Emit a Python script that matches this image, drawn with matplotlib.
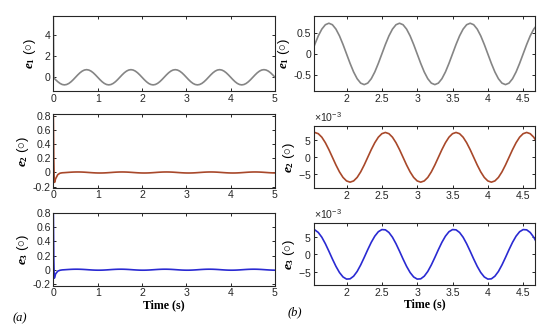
import numpy as np
import matplotlib.pyplot as plt
from matplotlib.ticker import ScalarFormatter

plt.rcParams['font.family'] = ['Liberation Sans', 'DejaVu Sans']
plt.rcParams['axes.unicode_minus'] = False
plt.rcParams['mathtext.fontset'] = 'custom'
plt.rcParams['mathtext.it'] = 'Liberation Serif:italic:bold'
plt.rcParams['mathtext.rm'] = 'Liberation Sans'
plt.rcParams['mathtext.bf'] = 'Liberation Serif:bold'

# start-up transient, sampled finer
t_start = [0.0, 0.01, 0.02, 0.03, 0.05, 0.10, 0.15]
e1_start = [5.6, -0.10, -0.12, -0.15, -0.23, -0.42, -0.58]
e2_start = [0.80, 0.20, -0.13, -0.14, -0.09, -0.03, -0.01]
e3_start = [0.80, 0.15, -0.12, -0.11, -0.06, -0.02, -0.008]

# steady part, every 0.05 s from 0.2 s to 5 s
t_main = np.round(np.arange(0.20, 5.0001, 0.05), 2)
e1_main = [-0.685, -0.72, -0.685, -0.582, -0.423, -0.222, 0, 0.222, 0.423, 0.582, 0.685, 0.72, 0.685, 0.582, 0.423, 0.222,
           0, -0.222, -0.423, -0.582, -0.685, -0.72, -0.685, -0.582, -0.423, -0.222, 0, 0.222, 0.423, 0.582, 0.685, 0.72, 0.685, 0.582, 0.423, 0.222,
           0, -0.222, -0.423, -0.582, -0.685, -0.72, -0.685, -0.582, -0.423, -0.222, 0, 0.222, 0.423, 0.582, 0.685, 0.72, 0.685, 0.582, 0.423, 0.222,
           0, -0.222, -0.423, -0.582, -0.685, -0.72, -0.685, -0.582, -0.423, -0.222, 0, 0.222, 0.423, 0.582, 0.685, 0.72, 0.685, 0.582, 0.423, 0.222,
           0, -0.222, -0.423, -0.582, -0.685, -0.72, -0.685, -0.582, -0.423, -0.222, 0, 0.222, 0.423, 0.582, 0.685, 0.72, 0.685, 0.582, 0.423, 0.222,
           0]
# e2 and e3 steady values in units of 1e-3 deg
e2_milli = [-4.29, -2.26, 0, 2.26, 4.29, 5.91, 6.94, 7.30, 6.94, 5.91, 4.29, 2.26, 0, -2.26, -4.29, -5.91,
            -6.94, -7.30, -6.94, -5.91, -4.29, -2.26, 0, 2.26, 4.29, 5.91, 6.94, 7.30, 6.94, 5.91, 4.29, 2.26, 0, -2.26, -4.29, -5.91,
            -6.94, -7.30, -6.94, -5.91, -4.29, -2.26, 0, 2.26, 4.29, 5.91, 6.94, 7.30, 6.94, 5.91, 4.29, 2.26, 0, -2.26, -4.29, -5.91,
            -6.94, -7.30, -6.94, -5.91, -4.29, -2.26, 0, 2.26, 4.29, 5.91, 6.94, 7.30, 6.94, 5.91, 4.29, 2.26, 0, -2.26, -4.29, -5.91,
            -6.94, -7.30, -6.94, -5.91, -4.29, -2.26, 0, 2.26, 4.29, 5.91, 6.94, 7.30, 6.94, 5.91, 4.29, 2.26, 0, -2.26, -4.29, -5.91,
            -6.94]
e3_milli = [-2.98, -0.88, 1.31, 3.37, 5.10, 6.34, 6.94, 6.87, 6.13, 4.80, 2.98, 0.88, -1.31, -3.37, -5.10, -6.34,
            -6.94, -6.87, -6.13, -4.80, -2.98, -0.88, 1.31, 3.37, 5.10, 6.34, 6.94, 6.87, 6.13, 4.80, 2.98, 0.88, -1.31, -3.37, -5.10, -6.34,
            -6.94, -6.87, -6.13, -4.80, -2.98, -0.88, 1.31, 3.37, 5.10, 6.34, 6.94, 6.87, 6.13, 4.80, 2.98, 0.88, -1.31, -3.37, -5.10, -6.34,
            -6.94, -6.87, -6.13, -4.80, -2.98, -0.88, 1.31, 3.37, 5.10, 6.34, 6.94, 6.87, 6.13, 4.80, 2.98, 0.88, -1.31, -3.37, -5.10, -6.34,
            -6.94, -6.87, -6.13, -4.80, -2.98, -0.88, 1.31, 3.37, 5.10, 6.34, 6.94, 6.87, 6.13, 4.80, 2.98, 0.88, -1.31, -3.37, -5.10, -6.34,
            -6.94]

t = np.concatenate([t_start, t_main])
e1 = np.concatenate([e1_start, e1_main])
e2 = np.concatenate([e2_start, np.array(e2_milli) * 1e-3])
e3 = np.concatenate([e3_start, np.array(e3_milli) * 1e-3])

colors = ['#858585', '#A8482A', '#2A2AD2']
ylabels = [r'$e_{\mathbf{1}}$ ($\circ$)', r'$e_{\mathbf{2}}$ ($\circ$)', r'$e_{\mathbf{3}}$ ($\circ$)']

fig = plt.figure(figsize=(5.5, 3.27), dpi=100)

# [left, bottom, width, height]
left_pos = [[0.097, 0.7217, 0.403, 0.2294],
            [0.097, 0.4251, 0.403, 0.2263],
            [0.097, 0.1254, 0.403, 0.2232]]
right_pos = [[0.571, 0.7217, 0.402, 0.2294],
             [0.571, 0.4242, 0.402, 0.1905],
             [0.571, 0.1284, 0.402, 0.1887]]

left_ylim = [(-1.3, 5.8), (-0.22, 0.83), (-0.23, 0.80)]
left_yticks = [[0, 2, 4], [-0.2, 0, 0.2, 0.4, 0.6, 0.8], [-0.2, 0, 0.2, 0.4, 0.6, 0.8]]
right_ylim = [(-0.87, 0.89), (-9.1e-3, 9.2e-3), (-8.6e-3, 8.7e-3)]
right_yticks = [[-0.5, 0, 0.5], [-0.005, 0, 0.005], [-0.005, 0, 0.005]]
left_labx = [-0.07, -0.103, -0.103]
right_labx = [-0.1, -0.077, -0.077]

series = [e1, e2, e3]
tick_fs = 7.6


def style(ax):
    for s in ax.spines.values():
        s.set_color('#262626')
        s.set_linewidth(0.8)
    ax.tick_params(direction='in', top=True, right=True, length=2.5, width=0.7,
                   labelsize=tick_fs, colors='#262626', pad=1.8)


for i in range(3):
    ax = fig.add_axes(left_pos[i])
    ax.plot(t, series[i], color=colors[i], lw=1.2)
    ax.set_xlim(0, 5)
    ax.set_ylim(*left_ylim[i])
    ax.set_xticks([0, 1, 2, 3, 4, 5])
    ax.set_yticks(left_yticks[i])
    ax.set_yticklabels([f'{v:g}' for v in left_yticks[i]])
    style(ax)
    ax.set_ylabel(ylabels[i], fontsize=9.5)
    ax.yaxis.set_label_coords(left_labx[i], 0.5)
    if i == 2:
        ax.set_xlabel('Time (s)', fontsize=8.6, family='Liberation Serif', fontweight='bold', labelpad=0.5)

    ax = fig.add_axes(right_pos[i])
    ax.plot(t, series[i], color=colors[i], lw=1.2)
    ax.set_xlim(1.54, 4.67)
    ax.set_ylim(*right_ylim[i])
    ax.set_xticks([2, 2.5, 3, 3.5, 4, 4.5])
    ax.set_xticklabels(['2', '2.5', '3', '3.5', '4', '4.5'])
    ax.set_yticks(right_yticks[i])
    if i == 0:
        ax.set_yticklabels(['-0.5', '0', '0.5'])
    else:
        fmt = ScalarFormatter(useMathText=True)
        fmt.set_powerlimits((-2, 2))
        ax.yaxis.set_major_formatter(fmt)
        ax.yaxis.get_offset_text().set_fontsize(tick_fs)
        ax.yaxis.get_offset_text().set_color('#262626')
    style(ax)
    ax.set_ylabel(ylabels[i], fontsize=9.5)
    ax.yaxis.set_label_coords(right_labx[i], 0.5)
    if i == 2:
        ax.set_xlabel('Time (s)', fontsize=8.6, family='Liberation Serif', fontweight='bold', labelpad=0.5)

fig.text(0.036, 0.028, '(a)', fontsize=9, family='Liberation Serif', style='italic', ha='center', va='center')
fig.text(0.536, 0.046, '(b)', fontsize=9, family='Liberation Serif', style='italic', ha='center', va='center')

fig.savefig('out.png', dpi=100)
